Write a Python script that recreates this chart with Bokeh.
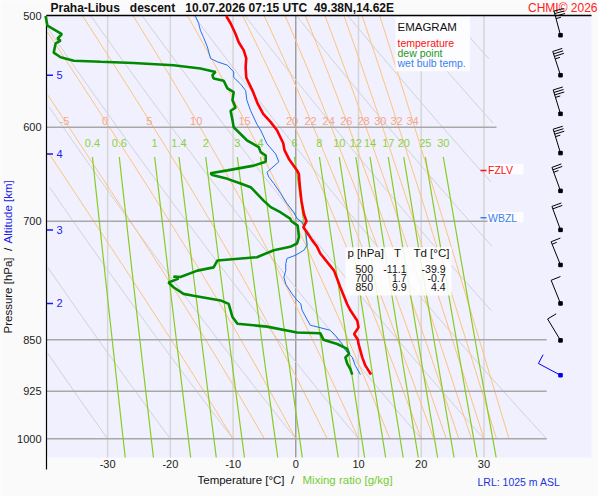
import math
import numpy as np
from bokeh.plotting import figure
from bokeh.models import Range1d, ColumnDataSource
from bokeh.embed import file_html
from bokeh.resources import INLINE
from bokeh.core.properties import value

# ------------------------------------------------------------------ data
NB = "\u00a0"
title_text = "Praha-Libus" + NB * 3 + "descent" + NB * 3 + "10.07.2026 07:15 UTC" + NB * 2 + "49.38N,14.62E"
credit_text = "CHMI\u00a9 2026"

temp_p = [500, 506, 515, 522, 529, 536, 544, 553, 558, 565, 577, 587, 595, 603, 616, 623, 632, 644, 648, 658,
          677, 692, 700, 707, 713, 722, 730, 738, 759, 780, 802, 810, 824, 833, 842, 850, 856, 875, 887, 900]
temp_t = [-11.1, -10.4, -9.6, -9.1, -8.3, -7.9, -8.0, -7.9, -7.5, -6.9, -6.1, -5.2, -4.0, -3.0, -2.0, -1.8, -1.1, 0.2, 0.5, 0.6,
          0.9, 1.3, 1.7, 1.2, 1.8, 2.6, 3.4, 3.9, 6.1, 7.1, 8.2, 8.7, 9.8, 10.0, 9.3, 9.9, 10.0, 10.6, 11.1, 12.0]

dew_p = [500, 508, 515, 519, 520.5, 523, 531, 535, 538, 539, 540, 542, 545, 548, 551, 554, 556, 563, 566.5, 574,
         581, 584, 593, 600, 613, 620, 625, 628.5, 635, 639, 644, 647, 649, 653, 658, 662, 669, 677, 684, 690,
         697, 700, 705, 718.5, 726, 730, 734, 742.5, 746.5, 755, 759, 767, 766.5, 769, 774, 780, 788.5, 791, 797, 801.5,
         810, 819, 828, 832, 840, 841, 850, 856, 863, 870, 875, 884, 892, 900]
dew_t = [-39.9, -39.6, -37.3, -38.0, -37.5, -38.3, -38.6, -37.5, -35.4, -31.1, -25.9, -19.5, -15.2, -12.8, -13.3, -13.1, -11.5, -10.9, -9.9, -10.1,
         -9.6, -10.4, -10.1, -9.9, -7.8, -5.9, -5.6, -4.8, -4.8, -6.7, -10.9, -13.6, -13.3, -10.9, -8.8, -7.2, -6.2, -5.1, -4.0, -2.4,
         -0.9, -0.7, 0.3, 0.5, 0.2, -0.9, -3.5, -6.2, -12.5, -13.1, -15.7, -18.4, -19.5, -18.7, -20.3, -19.5, -17.9, -16.3, -12.0, -10.7,
         -10.4, -10.1, -9.3, -4.6, 0.2, 3.9, 4.4, 6.6, 8.2, 8.5, 7.9, 8.2, 8.7, 9.0]

wb_p = [500, 506, 512, 518, 526, 536, 539, 542, 548, 553, 559, 565, 574, 584, 597, 603, 616.5, 627, 635, 646,
        651, 658, 669, 680, 690, 697, 701, 711, 728, 734, 740, 744, 750.5, 759, 767, 776, 788.5, 795, 801.5, 810,
        830, 833, 837, 844, 856, 865, 875, 887, 900]
wb_t = [-16.0, -15.5, -15.2, -14.7, -14.1, -13.6, -12.5, -10.9, -9.9, -9.9, -8.8, -8.0, -7.8, -7.2, -6.2, -5.6, -4.6, -3.2, -2.7, -4.6,
        -4.3, -3.5, -2.4, -1.4, -0.3, 0.2, 1.0, 1.6, 1.8, 1.3, 0.0, -1.4, -1.6, -1.6, -1.9, -1.6, -0.6, 0.0, 0.8, 1.0,
        2.3, 3.7, 5.5, 6.3, 7.4, 7.9, 9.0, 9.5, 10.3]

p_ticks = [500, 600, 700, 850, 925, 1000]
t_ticks = [-30, -20, -10, 0, 10, 20, 30]
isotherms = [-30, -20, -10, 10, 20, 30]
isobars = [600, 700, 850, 925, 1000]
isobar_ends = [32, 32, 40, 40, 40]
dry_theta = [-30, -20, -10, 0, 10, 20, 30, 40, 50, 60, 70, 80, 90]
moist_thw = [-10, -5, 0, 5, 10, 15, 20, 22, 24, 26, 28, 30, 32, 34]
moist_labelled = [-5, 0, 5, 10, 15, 20, 22, 24, 26, 28, 30, 32, 34]
mix_w = [0.4, 0.6, 1, 1.4, 2, 3, 4, 6, 8, 10, 12, 14, 17, 20, 25, 30]
mix_labels = ["0.4", "0.6", "1", "1.4", "2", "3", "4", "6", "8", "10", "12", "14", "17", "20", "25", "30"]

alt_km = [2, 3, 4, 5]
alt_p = [801, 710, 627, 551]

barb_p = [516, 551, 587, 626, 666, 710, 752, 801, 851, 901]
barb_dir = [345, 342, 343, 343, 340, 340, 338, 338, 329, 298]
barb_kt = [35, 35, 35, 35, 25, 20, 15, 10, 10, 10]

table_p = [500, 700, 850]
table_t = [-11.1, 1.7, 9.9]
table_td = [-39.9, -0.7, 4.4]

fzlv_p = 644
wbzl_p = 696
lrl_m = 1025

# ------------------------------------------------------------------ layout helpers (canvas pixels -> data)
FONT = "Liberation Sans"
W, H = 598, 496
FL, FR = 46, 591
T_MIN, T_MAX = -39.75, 47.15
PX_T = (FR - FL) / (T_MAX - T_MIN)
PX_LN = 610.0
Y500 = 15.5


def t_at(x):
    return T_MIN + (x - FL) / PX_T


def p_at(y):
    return 500.0 * math.exp((y - Y500) / PX_LN)


P_TOP = p_at(15)
P_BOT = p_at(457)


def tclip(pp):
    pp = np.asarray(pp)
    return np.where(pp <= 830, 31.5, 31.5 + 8.5 * np.log(pp / 830.0) / np.log(1000.0 / 830.0))


def pseudo(thw):
    rd, cp, lv, eps = 287.04, 1005.7, 2.501e6, 0.622

    def f(tk, lnp):
        pr = math.exp(lnp)
        tc = tk - 273.15
        es = 6.112 * math.exp(17.67 * tc / (tc + 243.5))
        rs = eps * es / (pr - es)
        return (rd * tk + lv * rs) / (cp + lv * lv * rs * eps / (rd * tk * tk))

    lnps = np.linspace(math.log(1000.0), math.log(500.0), 81)
    tk = thw + 273.15
    out = [tk]
    for i in range(80):
        h = lnps[i + 1] - lnps[i]
        k1 = f(tk, lnps[i])
        k2 = f(tk + h / 2 * k1, lnps[i] + h / 2)
        k3 = f(tk + h / 2 * k2, lnps[i] + h / 2)
        k4 = f(tk + h * k3, lnps[i + 1])
        tk = tk + h / 6 * (k1 + 2 * k2 + 2 * k3 + k4)
        out.append(tk)
    return np.exp(lnps), np.array(out) - 273.15


def mix_t(w, pp):
    e = w * pp / (622.0 + w)
    a = np.log(e / 6.112)
    return 243.5 * a / (17.67 - a)


# ------------------------------------------------------------------ figure (frame = whole canvas)
p = figure(width=W, height=H, x_range=Range1d(t_at(0), t_at(W)), y_range=Range1d(p_at(H), p_at(0)),
           y_axis_type="log", output_backend="svg", toolbar_location=None,
           x_axis_location=None, y_axis_location=None, min_border=0)
p.background_fill_color = "#fafafa"
p.border_fill_color = "#fafafa"
p.outline_line_color = None
p.xgrid.visible = False
p.ygrid.visible = False


def add_text(x, y, txt, color, size, align="left", baseline="middle", style="normal", angle=0.0):
    src = ColumnDataSource(dict(x=list(x), y=list(y), t=list(txt)))
    p.text(x="x", y="y", text="t", source=src, text_color=color, text_font=value(FONT),
           text_font_size=value(size), text_align=align, text_baseline=baseline,
           text_font_style=style, angle=angle)


# plotting area background
p.quad(left=[T_MIN], right=[T_MAX], top=[P_TOP], bottom=[P_BOT], fill_color="#f0f0ff", line_color=None)

# isotherms
p.segment(x0=isotherms, y0=[P_BOT] * len(isotherms), x1=isotherms, y1=[P_TOP] * len(isotherms),
          line_color="#d6d6d6", line_width=1.5)
p.segment(x0=[0], y0=[P_BOT], x1=[0], y1=[P_TOP], line_color="#8c8c8c", line_width=1.2)

# dry adiabats
pp = np.geomspace(500, 1000, 80)
xs, ys = [], []
for th in dry_theta:
    tt = (th + 273.15) * (pp / 1000.0) ** 0.2857 - 273.15
    m = (tt <= tclip(pp)) & (tt >= T_MIN)
    if m.sum() >= 2:
        xs.append(list(tt[m]))
        ys.append(list(pp[m]))
p.multi_line(xs, ys, line_color="#d2d2d2", line_width=1)

# pseudo-adiabats
xs, ys, lab_x, lab_y, lab_t = [], [], [], [], []
for thw in moist_thw:
    mp, mt = pseudo(thw)
    m = (mt <= tclip(mp)) & (mt >= T_MIN)
    if m.sum() >= 2:
        xs.append(list(mt[m]))
        ys.append(list(mp[m]))
    if thw in moist_labelled:
        lp = p_at(120)
        lab_x.append(float(np.interp(math.log(lp), np.log(mp[::-1]), mt[::-1])))
        lab_y.append(lp)
        lab_t.append(str(thw))
p.multi_line(xs, ys, line_color="#ffc27a", line_width=1)

# isobars
p.segment(x0=[T_MIN] * len(isobars), y0=isobars, x1=isobar_ends, y1=isobars,
          line_color="#a8a8a8", line_width=1.5)

# mixing ratio lines
pm = np.geomspace(630, P_BOT, 30)
xs, ys, mx, my = [], [], [], []
for w in mix_w:
    xs.append(list(mix_t(w, pm)))
    ys.append(list(pm))
    mx.append(float(mix_t(w, np.array([630.0]))[0]))
    my.append(p_at(142.7))
p.multi_line(xs, ys, line_color="#88cc22", line_width=1.2)

add_text(lab_x, lab_y, lab_t, "#f5a68c", "11px", align="center")
add_text(mx, my, mix_labels, "#8fd040", "11px", align="center")

# boxes: legend, table, FZLV, WBZL
p.quad(left=[t_at(395), t_at(345), t_at(487), t_at(487)],
       right=[t_at(469.5), t_at(451), t_at(523), t_at(523)],
       top=[p_at(16), p_at(246.7), p_at(163.3), p_at(211.7)],
       bottom=[p_at(70.7), p_at(295), p_at(174), p_at(222)],
       fill_color="white", fill_alpha=0.85, line_color=None)

add_text([t_at(397)], [p_at(26)], ["EMAGRAM"], "#111111", "11.5px")
add_text([t_at(397)], [p_at(42)], ["temperature"], "#ff1010", "10.5px")
add_text([t_at(397)], [p_at(52)], ["dew point"], "#229922", "10.5px")
add_text([t_at(397)], [p_at(62)], ["wet bulb temp."], "#3a7ff0", "10.5px")

# table
add_text([t_at(347)], [p_at(252)], ["p [hPa]"], "#111111", "11.5px")
add_text([t_at(397)], [p_at(252)], ["T"], "#111111", "11.5px", align="center")
add_text([t_at(413)], [p_at(252)], ["Td [\u00b0C]"], "#111111", "11.5px")
row_y = [p_at(268.3), p_at(277.3), p_at(286.7)]
add_text([t_at(372.5)] * 3, row_y, [str(v) for v in table_p], "#111111", "10.5px", align="right")
add_text([t_at(406)] * 3, row_y, ["%.1f" % v for v in table_t], "#111111", "10.5px", align="right")
add_text([t_at(445)] * 3, row_y, ["%.1f" % v for v in table_td], "#111111", "10.5px", align="right")

# FZLV / WBZL
p.segment(x0=[t_at(480), t_at(480)], y0=[fzlv_p, wbzl_p], x1=[t_at(486), t_at(486)], y1=[fzlv_p, wbzl_p],
          line_color=["#ff1010", "#3a7ff0"], line_width=1.5)
add_text([t_at(487.5)], [fzlv_p], ["FZLV"], "#ff1010", "10.5px")
add_text([t_at(487.5)], [wbzl_p], ["WBZL"], "#3a7ff0", "10.5px")

# altitude marks
p.segment(x0=[t_at(46.5)] * len(alt_p), y0=alt_p, x1=[t_at(52.5)] * len(alt_p), y1=alt_p,
          line_color="#1c1cf0", line_width=1.5)
add_text([t_at(56)] * len(alt_p), alt_p, [str(a) for a in alt_km], "#1c1cf0", "11px")

# axes lines
p.segment(x0=[T_MIN], y0=[P_TOP], x1=[T_MAX], y1=[P_TOP], line_color="black", line_width=1.5)
p.segment(x0=[T_MIN], y0=[P_TOP], x1=[T_MIN], y1=[p_at(469)], line_color="black", line_width=1.2)

# titles (top)
add_text([t_at(50)], [p_at(7.2)], [title_text], "#111111", "12px", baseline="middle", style="bold")
add_text([t_at(597)], [p_at(7.5)], [credit_text], "#ff2020", "12px", align="right", baseline="middle")

# wind barbs
BX = t_at(560)
L, F, HF, S = 25.0, 10.0, 5.0, 2.6
bx0, by0, bx1, by1, bcol, sx, sy, scol = [], [], [], [], [], [], [], []
for i, (bp, bd, kt) in enumerate(zip(barb_p, barb_dir, barb_kt)):
    col = "#0000ee" if i == len(barb_p) - 1 else "black"
    th = math.radians(bd)
    ux, uy = math.sin(th), -math.cos(th)
    fx, fy = -uy, ux

    def to_d(dx, dy, bp=bp):
        return BX + dx / PX_T, bp * math.exp(dy / PX_LN)

    segs = [((0, 0), (L * ux, L * uy))]
    nfull = kt // 10
    half = (kt % 10) >= 5
    for k in range(nfull):
        s = L - k * S
        segs.append(((s * ux, s * uy), (s * ux + F * fx, s * uy + F * fy)))
    if half:
        s = L - max(nfull, 1) * S
        segs.append(((s * ux, s * uy), (s * ux + HF * fx, s * uy + HF * fy)))
    for (a, b) in segs:
        x0, y0 = to_d(*a)
        x1, y1 = to_d(*b)
        bx0.append(x0); by0.append(y0); bx1.append(x1); by1.append(y1); bcol.append(col)
    sx.append(BX); sy.append(bp); scol.append(col)
p.segment(x0=bx0, y0=by0, x1=bx1, y1=by1, line_color=bcol, line_width=1)
p.scatter(sx, sy, marker="square", size=3.5, fill_color=scol, line_color=scol)

# sounding
p.line(wb_t, wb_p, line_color="#1f6fef", line_width=1)
p.line(dew_t, dew_p, line_color="#008a00", line_width=2.6)
p.line(temp_t, temp_p, line_color="#ff0000", line_width=2.6)

# tick labels
add_text([t_at(41)] * len(p_ticks), p_ticks, [str(v) for v in p_ticks], "#222222", "11px", align="right")
add_text(t_ticks, [p_at(463)] * len(t_ticks), [str(v) for v in t_ticks], "#222222", "11px", align="center")

# axis titles
add_text([t_at(7.5)], [p_at(333)], ["Pressure [hPa]" + NB * 2 + "/"], "#111111", "11.5px",
         angle=math.pi / 2)
add_text([t_at(7.5)], [p_at(243)], ["Altitude [km]"], "#2020ee", "11.5px", angle=math.pi / 2)
add_text([t_at(197)], [p_at(479.5)], ["Temperature [\u00b0C]" + NB * 2 + "/"], "#111111", "11.5px")
add_text([t_at(302)], [p_at(479.5)], ["Mixing ratio [g/kg]"], "#77cc33", "11.5px")
add_text([t_at(477)], [p_at(481.5)], ["LRL: %d m ASL" % lrl_m], "#2233dd", "10.5px")

open("out.html", "w").write(file_html(p, INLINE))
